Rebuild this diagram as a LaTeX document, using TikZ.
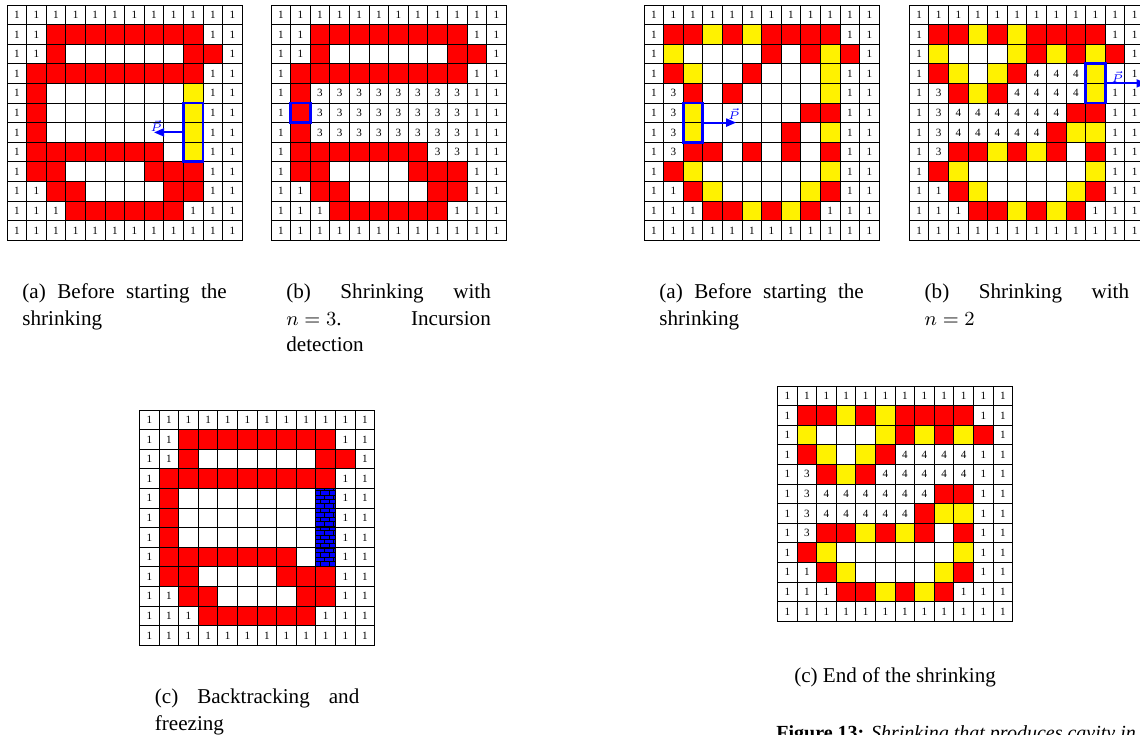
\documentclass[tikz,border=0pt]{standalone}
\usepackage{fontspec}
\setmainfont{Liberation Serif}
\usetikzlibrary{arrows.meta,positioning,patterns,calc}
\tolerance=10000
\hyphenpenalty=10000

% small bricks for the frozen cells
\pgfdeclarepatternformonly{smallbricks}{\pgfpoint{-0.2pt}{-0.2pt}}{\pgfpoint{4.2pt}{4.2pt}}{\pgfpoint{4pt}{4pt}}{%
  \pgfsetlinewidth{0.35pt}%
  \pgfpathmoveto{\pgfpoint{0pt}{0pt}}\pgfpathlineto{\pgfpoint{4pt}{0pt}}%
  \pgfpathmoveto{\pgfpoint{0pt}{2pt}}\pgfpathlineto{\pgfpoint{4pt}{2pt}}%
  \pgfpathmoveto{\pgfpoint{0pt}{0pt}}\pgfpathlineto{\pgfpoint{0pt}{2pt}}%
  \pgfpathmoveto{\pgfpoint{2pt}{2pt}}\pgfpathlineto{\pgfpoint{2pt}{4pt}}%
  \pgfusepath{stroke}}

% one 12x12 grid: name, top left corner, rows
\newcommand\shrinkgrid[3]{%
  \begin{scope}[shift={#2}, x=8.82pt, y=-8.82pt]
    \foreach \rowcode [count=\j] in #3 {
      \foreach \cel [count=\i] in \rowcode {
        \def\celltxt{}
        \node[cell, kind/\cel] (#1-\j-\i) at (\i-0.5,\j-0.5) {\celltxt};
      }
    }
  \end{scope}}

\newcommand\ringstart{{1,1,1,1,1,1,1,1,1,1,1,1},
  {1,1,R,R,R,R,R,R,R,R,1,1},
  {1,1,R,o,o,o,o,o,o,R,R,1},
  {1,R,R,R,R,R,R,R,R,R,1,1},
  {1,R,o,o,o,o,o,o,o,Y,1,1},
  {1,R,o,o,o,o,o,o,o,Y,1,1},
  {1,R,o,o,o,o,o,o,o,Y,1,1},
  {1,R,R,R,R,R,R,R,o,Y,1,1},
  {1,R,R,o,o,o,o,R,R,R,1,1},
  {1,1,R,R,o,o,o,o,R,R,1,1},
  {1,1,1,R,R,R,R,R,R,1,1,1},
  {1,1,1,1,1,1,1,1,1,1,1,1}}
\newcommand\ringincursion{{1,1,1,1,1,1,1,1,1,1,1,1},
  {1,1,R,R,R,R,R,R,R,R,1,1},
  {1,1,R,o,o,o,o,o,o,R,R,1},
  {1,R,R,R,R,R,R,R,R,R,1,1},
  {1,R,3,3,3,3,3,3,3,3,1,1},
  {1,R,3,3,3,3,3,3,3,3,1,1},
  {1,R,3,3,3,3,3,3,3,3,1,1},
  {1,R,R,R,R,R,R,R,3,3,1,1},
  {1,R,R,o,o,o,o,R,R,R,1,1},
  {1,1,R,R,o,o,o,o,R,R,1,1},
  {1,1,1,R,R,R,R,R,R,1,1,1},
  {1,1,1,1,1,1,1,1,1,1,1,1}}
\newcommand\ringfrozen{{1,1,1,1,1,1,1,1,1,1,1,1},
  {1,1,R,R,R,R,R,R,R,R,1,1},
  {1,1,R,o,o,o,o,o,o,R,R,1},
  {1,R,R,R,R,R,R,R,R,R,1,1},
  {1,R,o,o,o,o,o,o,o,B,1,1},
  {1,R,o,o,o,o,o,o,o,B,1,1},
  {1,R,o,o,o,o,o,o,o,B,1,1},
  {1,R,R,R,R,R,R,R,o,B,1,1},
  {1,R,R,o,o,o,o,R,R,R,1,1},
  {1,1,R,R,o,o,o,o,R,R,1,1},
  {1,1,1,R,R,R,R,R,R,1,1,1},
  {1,1,1,1,1,1,1,1,1,1,1,1}}
\newcommand\cavstart{{1,1,1,1,1,1,1,1,1,1,1,1},
  {1,R,R,Y,R,Y,R,R,R,R,1,1},
  {1,Y,o,o,o,o,R,o,R,Y,R,1},
  {1,R,Y,o,o,R,o,o,o,Y,1,1},
  {1,3,R,o,R,o,o,o,o,Y,1,1},
  {1,3,Y,o,o,o,o,o,R,R,1,1},
  {1,3,Y,o,o,o,o,R,o,Y,1,1},
  {1,3,R,R,o,R,o,R,o,R,1,1},
  {1,R,Y,o,o,o,o,o,o,Y,1,1},
  {1,1,R,Y,o,o,o,o,Y,R,1,1},
  {1,1,1,R,R,Y,R,Y,R,1,1,1},
  {1,1,1,1,1,1,1,1,1,1,1,1}}
\newcommand\cavtwo{{1,1,1,1,1,1,1,1,1,1,1,1},
  {1,R,R,Y,R,Y,R,R,R,R,1,1},
  {1,Y,o,o,o,Y,R,Y,R,Y,R,1},
  {1,R,Y,o,Y,R,4,4,4,Y,o,1},
  {1,3,R,Y,R,4,4,4,4,Y,1,1},
  {1,3,4,4,4,4,4,4,R,R,1,1},
  {1,3,4,4,4,4,4,R,Y,Y,1,1},
  {1,3,R,R,Y,R,Y,R,o,R,1,1},
  {1,R,Y,o,o,o,o,o,o,Y,1,1},
  {1,1,R,Y,o,o,o,o,Y,R,1,1},
  {1,1,1,R,R,Y,R,Y,R,1,1,1},
  {1,1,1,1,1,1,1,1,1,1,1,1}}
\newcommand\cavend{{1,1,1,1,1,1,1,1,1,1,1,1},
  {1,R,R,Y,R,Y,R,R,R,R,1,1},
  {1,Y,o,o,o,Y,R,Y,R,Y,R,1},
  {1,R,Y,o,Y,R,4,4,4,4,1,1},
  {1,3,R,Y,R,4,4,4,4,4,1,1},
  {1,3,4,4,4,4,4,4,R,R,1,1},
  {1,3,4,4,4,4,4,R,Y,Y,1,1},
  {1,3,R,R,Y,R,Y,R,o,R,1,1},
  {1,R,Y,o,o,o,o,o,o,Y,1,1},
  {1,1,R,Y,o,o,o,o,Y,R,1,1},
  {1,1,1,R,R,Y,R,Y,R,1,1,1},
  {1,1,1,1,1,1,1,1,1,1,1,1}}

\begin{document}
\begin{tikzpicture}[x=0.45pt, y=-0.45pt,
  cell/.style={draw, line width=0.4pt, minimum size=8.82pt, inner sep=0pt, outer sep=0pt, font=\fontsize{5}{6}\selectfont},
  kind/o/.style={},
  kind/1/.style={/utils/exec=\def\celltxt{1}},
  kind/3/.style={/utils/exec=\def\celltxt{3}},
  kind/4/.style={/utils/exec=\def\celltxt{4}},
  kind/R/.style={fill=red},
  kind/Y/.style={fill=yellow},
  kind/B/.style={fill=blue, postaction={pattern=smallbricks}},
  sel/.style={draw=blue, line width=1.2pt},
  push/.style={blue, line width=0.9pt, -{Triangle[length=4.5pt, width=3.6pt]}},
  pvec/.style={blue, font=\fontsize{5}{6}\selectfont, inner sep=0.3pt},
  capbox/.style={text width=92pt, align=justify, inner sep=0pt, anchor=north,
    font=\fontsize{9.5}{12}\selectfont}]
\useasboundingbox (0,0) rectangle (1140,735);
\clip (0,0) rectangle (1140,735);

\shrinkgrid{la}{(7,5)}{\ringstart}
\shrinkgrid{lb}{(271,5)}{\ringincursion}
\shrinkgrid{lc}{(139.5,410)}{\ringfrozen}
\shrinkgrid{ra}{(644,5)}{\cavstart}
\shrinkgrid{rb}{(909.3,5)}{\cavtwo}
\shrinkgrid{rc}{(777.5,386)}{\cavend}

% selections and pushes
\draw[sel] (la-6-10.north west) rectangle (la-8-10.south east);
\draw[push] (la-7-10.west) -- (la-7-8.center) coordinate (latip);
\node[pvec, above=0pt of latip, xshift=1pt] (lap) {$\vec{P}$};
\draw[sel] (lb-6-2.north west) rectangle (lb-6-2.south east);
\draw[sel] (ra-6-3.north west) rectangle (ra-7-3.south east);
\draw[push] (ra-6-3.south east) -- ($(ra-6-5.south)+(4,0)$) coordinate (ratip);
\node[pvec, above=1pt of ratip, xshift=-1pt] (rap) {$\vec{P}$};
\draw[sel] (rb-4-10.north west) rectangle (rb-5-10.south east);
\draw[push] (rb-4-10.south east) -- ($(rb-4-12.south east)+(2,0)$) coordinate (rbtip);
\node[pvec, above=0pt of rb-4-11.south, xshift=1pt] (rbp) {$\vec{P}$};

% captions
\node[capbox, below=19.5pt of la-12-6.south east] (capla) {(a) Before starting the shrinking};
\node[capbox, below=19.5pt of lb-12-6.south east] (caplb) {(b) Shrinking with \mbox{$n=3$.} Incursion detection};
\node[capbox, below=19.5pt of lc-12-6.south east] (caplc) {(c) Backtracking and freezing};
\node[capbox, below=19.5pt of ra-12-6.south east] (capra) {(a) Before starting the shrinking};
\node[capbox, below=19.5pt of rb-12-6.south east] (caprb) {(b) Shrinking with \mbox{$n=2$}};
\node[inner sep=0pt, font=\fontsize{9.5}{12}\selectfont, below=20.5pt of rc-12-6.south east] (caprc) {(c) End of the shrinking};
\node[inner sep=0pt, anchor=base west, font=\fontsize{9}{11}\selectfont] (figtxt) at (776,739)
  {\textbf{Figure 13:} \textit{Shrinking that produces cavity in fai}};
\end{tikzpicture}
\end{document}
